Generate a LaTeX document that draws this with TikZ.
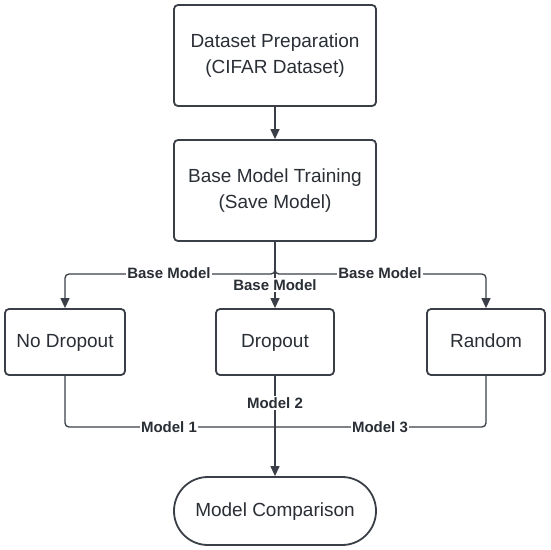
\documentclass[tikz,border=0pt]{standalone}
\usepackage{fontspec}
\setmainfont{Liberation Sans}
\usetikzlibrary{arrows.meta}
\definecolor{ln}{HTML}{3A3F47}
\definecolor{tx}{HTML}{2A2E35}
\begin{document}
\begin{tikzpicture}[x=1pt,y=-1pt,
 box/.style={draw=ln, line width=1.8pt, rounded corners=4pt, fill=white, text=tx, font=\fontsize{19}{26}\selectfont, align=center, inner sep=0pt},
 conn/.style={draw=ln, line width=1.3pt},
 arr/.style={conn, -{Triangle[length=10pt,width=9pt]}},
 lbl/.style={fill=white, text=tx, font=\bfseries\fontsize{15}{16}\selectfont, inner sep=1pt}]
\useasboundingbox (0,0) rectangle (550,550);
\node[box, minimum width=202pt, minimum height=101pt] (prep) at (275,55.5) {Dataset Preparation\\(CIFAR Dataset)};
\node[box, minimum width=202pt, minimum height=101pt] (base) at (275,190.5) {Base Model Training\\(Save Model)};
\node[box, minimum width=120pt, minimum height=66pt] (nod) at (65,342) {No Dropout\strut};
\node[box, minimum width=118pt, minimum height=66pt] (drop) at (275,342) {Dropout\strut};
\node[box, minimum width=118pt, minimum height=66pt] (rand) at (486,342) {Random\strut};
\node[box, rounded corners=33.9pt, minimum width=202pt, minimum height=68pt] (cmp) at (275,511) {Model Comparison\strut};
\coordinate (j) at (275,274);
\coordinate (k) at (275,427);
\draw[arr] (prep) -- (base);
\draw[arr, rounded corners=4pt] (base.south) -- (j) -| (nod.north);
\draw[arr, rounded corners=4pt] (base.south) -- (j) -| (rand.north);
\draw[arr] (base.south) -- (drop.north);
\draw[conn, rounded corners=4pt] (nod.south) |- (k);
\draw[conn, rounded corners=4pt] (rand.south) |- (k);
\draw[arr] (drop.south) -- (cmp.north);
\node[lbl] (b1) at (169,273) {Base Model};
\node[lbl] (b2) at (275,285) {Base Model};
\node[lbl] (b3) at (380,273) {Base Model};
\node[lbl] (m1) at (169,427) {Model 1};
\node[lbl] (m2) at (275,403) {Model 2};
\node[lbl] (m3) at (380,427) {Model 3};
\end{tikzpicture}
\end{document}
